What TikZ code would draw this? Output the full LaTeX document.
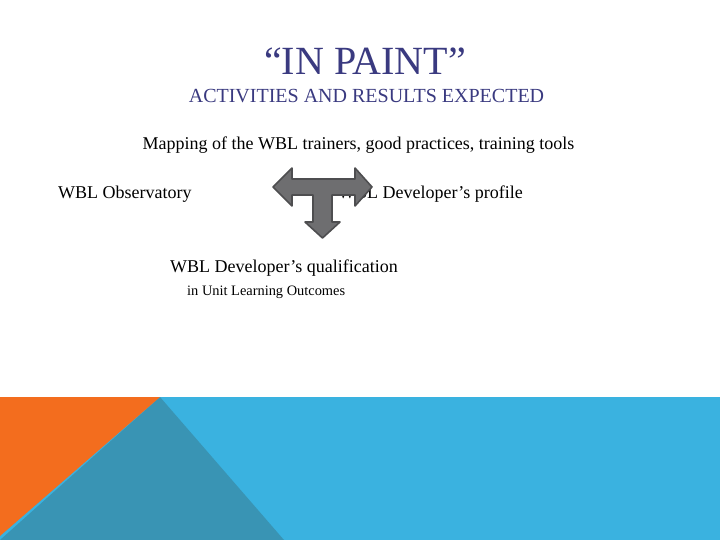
\documentclass[tikz,border=0pt]{standalone}
\usepackage{fontspec}
\setmainfont{Liberation Serif}
\usepackage{xcolor}
\usetikzlibrary{positioning}
\definecolor{titleblue}{HTML}{3A3A80}
\definecolor{slideorange}{HTML}{F36D1E}
\definecolor{slideteal}{HTML}{3994B4}
\definecolor{slidesky}{HTML}{3AB2E0}
\definecolor{arrowgray}{HTML}{6E6E70}
\definecolor{arrowedge}{HTML}{4E4E50}
\tikzstyle{bodytext} = [inner sep=0pt, font=\fontsize{18}{21}\selectfont, text=black]
\tikzstyle{smalltext} = [inner sep=0pt, font=\fontsize{14.4}{17}\selectfont, text=black]
\tikzstyle{tarrow} = [fill=arrowgray, draw=arrowedge, line width=1.6pt, line join=round]

\begin{document}
\begin{tikzpicture}[x=1pt,y=-1pt]
      \useasboundingbox (0,0) rectangle (720,540);
      \fill[white] (0,0) rectangle (720,540);
      % bottom band
      \fill[slidesky] (0,397) rectangle (720,540);
      \fill[slideteal] (160,397) -- (284,540) -- (0,540) -- cycle;
      \fill[slideorange] (0,397) -- (160,397) -- (0,536) -- cycle;
      % titles
      \node[inner sep=0pt, anchor=base, text=titleblue, font=\fontsize{40}{46}\selectfont] (title) at (365,75) {“IN PAINT”};
      \node[inner sep=0pt, anchor=base, text=titleblue, font=\fontsize{20}{24}\selectfont] (subtitle) at (366.5,103) {ACTIVITIES AND RESULTS EXPECTED};
      % texts
      \node[bodytext, anchor=base] (mapping) at (358.5,150) {Mapping of the WBL trainers, good practices, training tools};
      \node[bodytext, anchor=base west] (observ) at (58,199) {WBL Observatory};
      \node[bodytext, anchor=base east] (profile) at (523,199) {WBL Developer’s profile};
      \node[bodytext, anchor=base west] (qualif) at (170,272) {WBL Developer’s qualification};
      \node[smalltext, anchor=base west] (outcomes) at (187,295) {in Unit Learning Outcomes};
      % T arrow
      \draw[tarrow] (273,187) -- (292,168) -- (292,179) -- (355,179) -- (355,168) -- (372,187)
            -- (355,206) -- (355,195) -- (332,195) -- (332,222) -- (340,222) -- (322.5,238)
            -- (305,222) -- (313,222) -- (313,195) -- (292,195) -- (292,206) -- cycle;
      \end{tikzpicture}
\end{document}
